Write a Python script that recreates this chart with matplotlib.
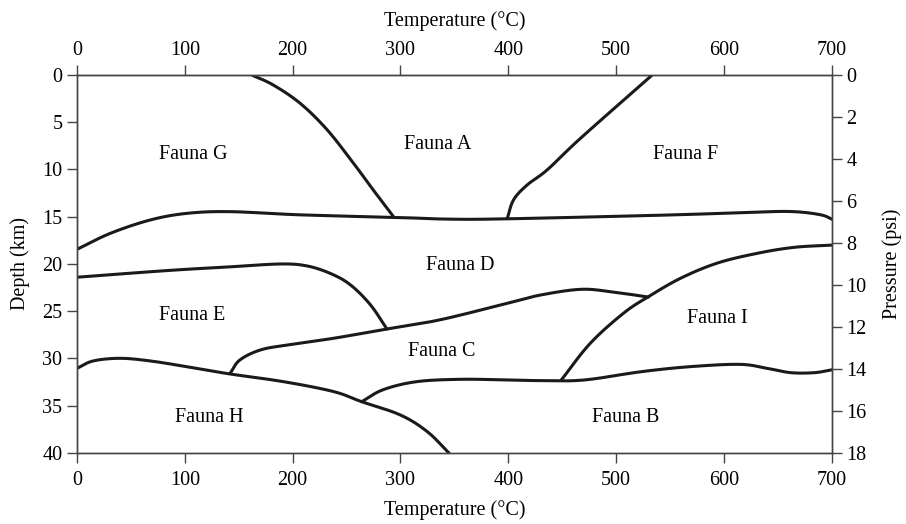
import numpy as np
from matplotlib import pyplot as plt

plt.rcParams["font.family"] = ["Liberation Serif", "DejaVu Serif"]
plt.rcParams["font.size"] = 14.5

# Boundaries between faunal zones: (temperature in C, depth in km)
line_ag_t = [162, 182, 207, 232, 256.5, 275, 294]
line_ag_d = [0.0, 1.06, 3.0, 5.8, 9.35, 12.2, 15.06]

line_top_t = [0, 31, 68, 102, 142, 207, 294, 343, 399, 554, 631, 665, 690, 701]
line_top_d = [18.45, 16.75, 15.34, 14.64, 14.46, 14.8, 15.06, 15.25, 15.22, 14.8, 14.5, 14.46, 14.8, 15.3]

line_af_t = [399, 405, 417.5, 436, 467, 533.5]
line_af_d = [15.2, 13.2, 11.64, 10.05, 6.7, 0.0]

line_de_t = [0, 83, 142, 188.5, 213, 235, 253.5, 272, 287.5]
line_de_d = [21.4, 20.7, 20.3, 20.0, 20.2, 21.0, 22.2, 24.3, 26.88]

line_dc_t = [142, 151, 170, 195, 238, 287.5, 337, 399, 430, 467, 495, 530]
line_dc_d = [31.57, 30.16, 29.1, 28.57, 27.86, 26.88, 25.9, 24.16, 23.28, 22.68, 22.93, 23.5]

line_i_t = [449, 476, 507, 530, 560, 594, 631, 665, 700]
line_i_d = [32.3, 28.4, 25.2, 23.46, 21.5, 19.9, 18.87, 18.24, 18.0]

line_cb_t = [264, 284, 315, 356, 399, 430, 470, 523, 569, 615, 640, 662, 684, 700]
line_cb_d = [34.57, 33.3, 32.45, 32.2, 32.27, 32.34, 32.28, 31.4, 30.86, 30.62, 31.04, 31.5, 31.5, 31.2]

line_eh_t = [0, 15, 40, 68, 102, 142, 191.5, 238, 264, 300, 325, 345]
line_eh_d = [31.04, 30.26, 29.98, 30.26, 30.87, 31.64, 32.45, 33.5, 34.57, 35.98, 37.75, 40.0]

lines = [
    (line_ag_t, line_ag_d), (line_top_t, line_top_d), (line_af_t, line_af_d),
    (line_de_t, line_de_d), (line_dc_t, line_dc_d), (line_i_t, line_i_d),
    (line_cb_t, line_cb_d), (line_eh_t, line_eh_d),
]

labels = ["Fauna G", "Fauna A", "Fauna F", "Fauna D", "Fauna E",
          "Fauna C", "Fauna I", "Fauna H", "Fauna B"]
label_t = [108, 335, 564, 355, 107, 338, 594, 123, 509]
label_d = [8.4, 7.4, 8.4, 20.2, 25.5, 29.3, 25.8, 36.2, 36.2]

temp_ticks = [0, 100, 200, 300, 400, 500, 600, 700]
depth_ticks = [0, 5, 10, 15, 20, 25, 30, 35, 40]
pressure_ticks = [0, 2, 4, 6, 8, 10, 12, 14, 16, 18]


def smooth(t, d, n=12):
    # catmull-rom through the read points, only for drawing
    p = np.column_stack([t, d]).astype(float)
    p = np.vstack([2 * p[0] - p[1], p, 2 * p[-1] - p[-2]])
    out = []
    s = np.linspace(0, 1, n, endpoint=False)[:, None]
    for i in range(1, len(p) - 2):
        p0, p1, p2, p3 = p[i - 1], p[i], p[i + 1], p[i + 2]
        seg = 0.5 * (2 * p1 + (-p0 + p2) * s + (2 * p0 - 5 * p1 + 4 * p2 - p3) * s ** 2
                     + (-p0 + 3 * p1 - 3 * p2 + p3) * s ** 3)
        out.append(seg)
    out.append(p[-2][None, :])
    out = np.vstack(out)
    return out[:, 0], out[:, 1]


fig = plt.figure(figsize=(9.06, 5.24), dpi=100)
ax = fig.add_axes([0.085, 0.1355, 0.833, 0.7214])

for t, d in lines:
    xs, ys = smooth(t, d)
    ax.plot(xs, ys, color="#1a1a1a", lw=2.2, solid_capstyle="round", solid_joinstyle="round")

for lab, t, d in zip(labels, label_t, label_d):
    ax.text(t, d, lab, ha="center", va="center", fontsize=14.5)

ax.set_xlim(0, 700)
ax.set_ylim(40, 0)
ax.set_xticks(temp_ticks)
ax.set_yticks(depth_ticks)
ax.set_xlabel("Temperature (°C)", labelpad=7)
ax.set_ylabel("Depth (km)", labelpad=9)

ax_top = ax.secondary_xaxis("top")
ax_top.set_xticks(temp_ticks)
ax_top.set_xlabel("Temperature (°C)", labelpad=11)

ax_r = ax.twinx()
ax_r.set_ylim(18, 0)
ax_r.set_yticks(pressure_ticks)
ax_r.set_ylabel("Pressure (psi)", labelpad=11)

for a in [ax, ax_top, ax_r]:
    a.tick_params(direction="out", length=7, width=1, color="#444444")
ax.tick_params(axis="x", pad=6)
for a in [ax, ax_r]:
    for s in a.spines.values():
        s.set_color("#444444")
        s.set_linewidth(1)
ax_top.spines["top"].set_color("#444444")

plt.savefig("out.png", dpi=100)
